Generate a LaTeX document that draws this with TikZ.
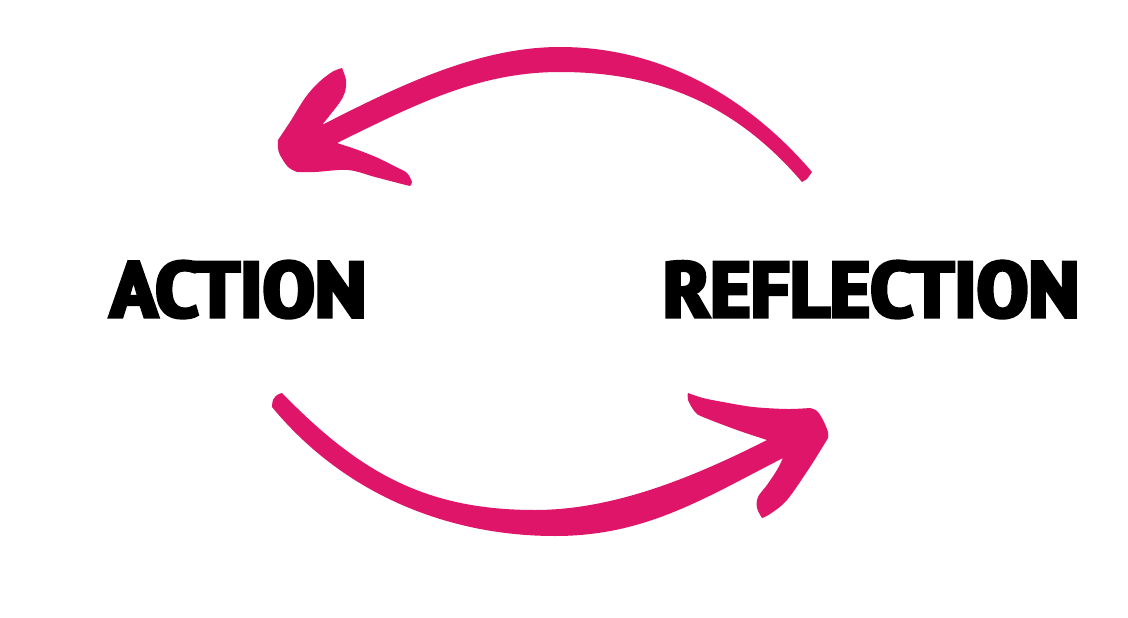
\documentclass[tikz,border=0pt]{standalone}
\usepackage{fontspec}
\usepackage{graphicx}
\newfontfamily\heavy[FakeBold=4]{PT Sans Narrow Bold}
\definecolor{rmag}{RGB}{222,21,104}
\tikzset{
  arrowfill/.style={fill=rmag, draw=none},
  edge/.style={smooth, tension=0.55},
  word/.style={inner sep=0pt, outer sep=0pt, font=\heavy, anchor=base west, text=black}
}
\begin{document}
\begin{tikzpicture}[x=1pt,y=-1pt]
\useasboundingbox (0,0) rectangle (1128,618);
\fill[white] (0,0) rectangle (1128,618);

\node[word] (action) at (110,317) {\resizebox{256pt}{56pt}{ACTION}};
\node[word] (reflection) at (663,317) {\resizebox{416pt}{56pt}{REFLECTION}};

% top arrow: from reflection back to action
\fill[arrowfill]
  (812,172) .. controls (747,96) and (660,47) .. (560,47)
            .. controls (480,47) and (402,84) .. (322,125)
  -- plot[edge] coordinates {(322,125) (330,115) (340,102) (345,92) (346,80) (342,68)}
  -- plot[edge] coordinates {(342,68) (332,72) (318,83) (305,98) (290,122) (278,140)}
  -- plot[edge] coordinates {(278,140) (278,148) (280,155) (288,167) (297,172)}
  -- plot[edge] coordinates {(297,172) (315,172) (348,170) (375,177) (398,183) (410,186)}
  -- plot[edge] coordinates {(410,186) (412,182) (407,173) (398,168)}
  -- plot[edge] coordinates {(398,168) (378,158) (358,150) (337,143)}
  .. controls (418,103) and (480,72) .. (560,72)
  .. controls (660,72) and (737,106) .. (802,182)
  -- (807,179) -- cycle;

% bottom arrow: from action to reflection
\fill[arrowfill]
  plot[edge] coordinates {(272,407) (273,400) (277,395) (282,393)}
  .. controls (359,472) and (425,510) .. (535,510)
  .. controls (615,510) and (696,476) .. (767,440)
  -- plot[edge] coordinates {(767,440) (737,430) (703,417) (695,412) (688,400) (688,393)}
  -- plot[edge] coordinates {(688,393) (703,398) (723,402) (753,407) (787,409) (810,408)}
  -- plot[edge] coordinates {(810,408) (817,411) (823,420) (828,432) (828,438)}
  -- plot[edge] coordinates {(828,438) (810,467) (787,500) (770,514) (762,518)}
  -- plot[edge] coordinates {(762,518) (757,508) (758,497) (767,485) (777,470) (783,458)}
  .. controls (703,499) and (645,536) .. (555,536)
  .. controls (445,536) and (342,492) .. (272,407)
  -- cycle;
\end{tikzpicture}
\end{document}
